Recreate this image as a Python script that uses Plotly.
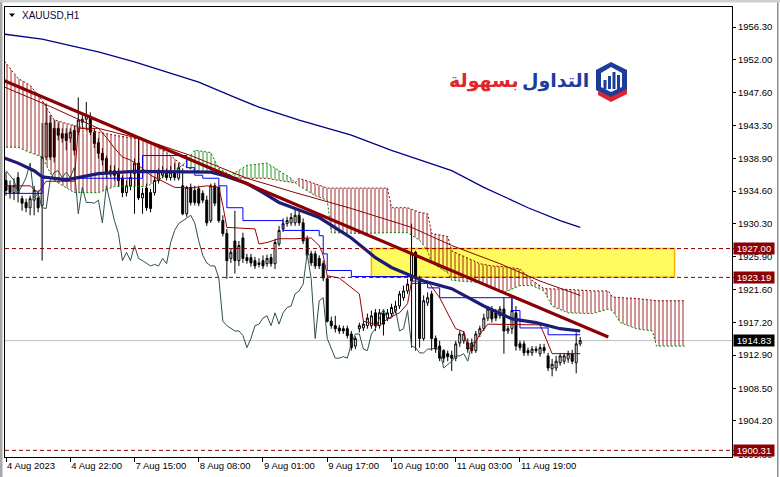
import plotly.graph_objects as go

# ---------------- candle data (XAUUSD H1) ----------------
opens = [1936.0,1935.3,1934.4,1936.4,1933.6,1933.1,1932.4,1933.4,1933.7,1932.7,
         1939.1,1943.6,1942.9,1942.9,1942.2,1942.2,1941.6,1942.6,1942.4,1943.7,
         1944.1,1944.4,1942.4,1941.0,1939.6,1938.9,1936.9,1937.3,1936.9,1936.3,
         1934.4,1935.3,1936.9,1938.3,1933.7,1935.0,1934.4,1934.4,1936.0,1936.7,
         1937.1,1936.4,1937.1,1936.3,1935.3,1931.6,1935.1,1934.7,1934.9,1934.3,
         1933.4,1930.7,1935.3,1935.1,1930.7,1929.0,1925.7,1928.0,1925.4,1928.4,
         1925.8,1925.8,1925.4,1925.1,1925.4,1925.0,1925.8,1925.0,1927.6,1929.6,
         1930.3,1930.4,1930.4,1931.4,1930.4,1928.3,1926.3,1926.3,1925.7,1925.0,
         1923.0,1917.4,1916.8,1916.5,1916.4,1916.4,1915.7,1914.1,1916.4,1916.5,
         1916.8,1916.8,1918.5,1916.8,1918.4,1917.8,1918.4,1918.8,1919.4,1920.5,
         1921.4,1922.7,1926.5,1922.7,1915.1,1919.8,1921.0,1915.1,1914.1,1913.5,
         1913.1,1912.9,1912.5,1914.5,1914.8,1914.5,1914.5,1913.5,1915.7,1916.4,
         1917.8,1918.8,1918.5,1918.1,1919.0,1916.1,1916.4,1918.5,1914.4,1914.4,
         1913.5,1913.2,1913.5,1913.1,1913.9,1912.8,1911.1,1911.2,1911.9,1912.1,
         1912.4,1913.1,1911.9,1914.4]
highs = [1937.1,1936.0,1936.3,1937.1,1934.0,1933.6,1934.0,1935.3,1934.7,1943.6,
         1946.2,1944.6,1944.0,1943.7,1942.9,1942.9,1942.9,1943.3,1947.0,1944.6,
         1946.4,1945.0,1942.9,1941.6,1940.3,1939.3,1938.0,1938.0,1937.6,1936.7,
         1936.0,1937.3,1938.9,1941.7,1935.0,1935.6,1934.9,1936.5,1937.6,1937.9,
         1937.6,1937.9,1938.3,1938.3,1937.6,1935.3,1935.6,1935.3,1935.3,1934.7,
         1934.0,1935.6,1935.7,1935.3,1931.4,1929.6,1927.0,1932.0,1928.0,1929.1,
         1926.3,1926.3,1925.9,1925.7,1926.1,1926.2,1926.3,1928.3,1930.0,1931.0,
         1931.2,1931.7,1932.4,1932.0,1931.0,1928.7,1926.7,1926.7,1926.1,1925.4,
         1923.4,1918.0,1918.1,1916.9,1916.8,1916.8,1916.1,1915.4,1917.2,1917.4,
         1918.4,1918.8,1919.0,1919.0,1918.8,1919.0,1919.7,1920.1,1921.4,1922.1,
         1923.0,1930.3,1926.7,1923.4,1920.8,1921.2,1921.4,1915.5,1914.8,1913.7,
         1913.5,1913.5,1914.8,1916.1,1916.1,1915.1,1915.1,1916.1,1916.8,1918.4,
         1919.4,1919.4,1919.0,1919.4,1920.5,1916.8,1920.5,1919.4,1914.8,1914.8,
         1913.9,1914.1,1914.1,1914.4,1914.4,1913.2,1912.4,1912.8,1913.2,1913.2,
         1913.5,1913.6,1915.9,1915.3]
lows = [1934.0,1933.6,1933.4,1933.1,1932.0,1931.8,1931.4,1931.4,1931.8,1925.4,
        1938.7,1938.7,1938.4,1941.3,1941.0,1940.0,1941.0,1939.3,1942.0,1942.9,
        1942.6,1942.0,1940.3,1938.9,1938.0,1936.3,1936.5,1936.0,1935.3,1933.8,
        1933.9,1934.7,1931.6,1933.4,1931.6,1932.0,1931.8,1934.0,1935.6,1936.3,
        1936.0,1936.0,1936.0,1936.0,1931.4,1931.2,1932.7,1932.7,1932.6,1933.0,
        1930.0,1930.4,1932.6,1930.4,1928.6,1923.0,1925.1,1923.7,1924.7,1925.1,
        1925.0,1924.6,1924.3,1924.5,1924.3,1924.6,1924.6,1924.3,1927.3,1929.2,
        1929.9,1930.0,1930.0,1930.0,1927.6,1925.7,1924.7,1924.3,1924.3,1922.7,
        1917.2,1916.4,1915.9,1915.7,1915.7,1915.1,1913.5,1913.7,1915.9,1916.1,
        1916.4,1916.4,1916.1,1916.4,1915.5,1917.4,1918.0,1918.4,1919.0,1920.1,
        1921.0,1913.9,1913.5,1913.9,1914.8,1919.4,1913.5,1913.2,1912.1,1911.9,
        1912.1,1910.8,1912.1,1914.0,1914.4,1913.2,1913.1,1913.2,1915.3,1916.1,
        1917.4,1917.2,1917.4,1917.7,1913.1,1915.7,1915.7,1913.5,1913.5,1912.8,
        1912.8,1912.8,1913.2,1912.7,1913.1,1910.8,1910.1,1910.8,1911.5,1911.7,
        1911.9,1911.7,1910.5,1914.1]
closes = [1934.7,1934.4,1935.3,1934.3,1933.0,1932.4,1933.6,1934.7,1932.4,1939.1,
          1943.6,1939.1,1939.1,1942.0,1941.6,1941.3,1942.4,1940.0,1944.0,1944.1,
          1944.6,1942.4,1940.9,1939.6,1938.7,1937.1,1937.3,1936.7,1936.0,1934.4,
          1935.3,1936.4,1938.3,1933.7,1934.3,1932.4,1932.3,1936.0,1937.1,1937.3,
          1936.4,1937.1,1936.4,1937.7,1931.6,1935.1,1933.1,1933.1,1933.0,1933.4,
          1930.4,1935.3,1933.0,1930.7,1929.0,1925.4,1926.5,1925.4,1927.4,1925.7,
          1925.4,1925.1,1924.7,1924.9,1924.7,1925.7,1925.0,1927.8,1929.4,1930.3,
          1930.7,1931.1,1931.4,1930.4,1928.0,1926.1,1925.1,1924.7,1924.7,1923.1,
          1917.4,1916.8,1916.4,1916.1,1916.1,1915.5,1913.9,1915.1,1916.8,1917.0,
          1917.8,1918.1,1916.8,1918.5,1917.0,1918.5,1919.2,1919.4,1921.0,1921.4,
          1922.3,1926.3,1923.0,1915.1,1920.1,1920.5,1915.1,1913.7,1912.5,1912.5,
          1912.7,1912.5,1914.4,1915.7,1915.7,1913.7,1913.5,1915.7,1916.4,1917.8,
          1919.0,1917.7,1917.8,1919.0,1916.1,1916.4,1918.8,1914.1,1913.9,1913.2,
          1913.2,1913.7,1913.7,1913.9,1913.5,1911.2,1911.7,1912.1,1912.8,1912.8,
          1913.1,1912.1,1914.4,1914.83]
bar_idx = list(range(len(closes)))

# ---------------- axis ticks ----------------
time_tick_idx = [0, 16, 32, 48, 64, 80, 96, 112, 128]
time_tick_labels = ["4 Aug 2023", "4 Aug 22:00", "7 Aug 15:00", "8 Aug 08:00", "9 Aug 01:00",
                    "9 Aug 17:00", "10 Aug 10:00", "11 Aug 03:00", "11 Aug 19:00"]
price_ticks = [1956.30, 1952.00, 1947.60, 1943.30, 1938.90, 1934.60, 1930.30, 1925.90,
               1921.60, 1917.20, 1912.90, 1908.50, 1904.20, 1899.80]

# ---------------- indicators ----------------
ma_slow_idx = [-1, 9, 18, 23, 32, 40, 48, 57, 63, 73, 86, 96, 111, 119, 130, 138, 143]
ma_slow_px = [1955.4, 1954.7, 1953.6, 1953.0, 1951.7, 1950.3, 1949.0, 1947.0, 1945.7, 1944.0,
              1942.0, 1940.0, 1937.3, 1935.1, 1932.4, 1930.7, 1929.8]

ma_mid_idx = [-1, 11, 23, 35, 46, 60, 72, 86, 101, 111, 123, 133, 143]
ma_mid_px = [1948.5, 1945.8, 1942.9, 1941.3, 1939.3, 1936.3, 1934.4, 1932.3, 1929.8, 1927.4,
             1925.0, 1922.7, 1920.8]

ma_fast_idx = [-1, 3, 7, 9, 15, 19, 23, 32, 44, 51, 54, 60, 64, 68, 72, 78, 86, 92, 96, 101,
               104, 111, 119, 126, 132, 138, 143]
ma_fast_px = [1939.1, 1938.3, 1937.3, 1936.5, 1936.1, 1936.5, 1936.9, 1937.2, 1937.1, 1937.1,
              1936.7, 1935.6, 1934.4, 1933.1, 1932.3, 1931.1, 1928.4, 1925.8, 1924.5, 1923.4,
              1922.7, 1921.7, 1919.4, 1917.7, 1917.2, 1916.4, 1916.1]

tenkan_idx = [-1, 6, 8, 10, 17, 18, 23, 25, 27, 29, 31, 33, 36, 42, 46, 50, 53, 54, 55, 62,
              63, 65, 68, 72, 76, 78, 79, 80, 83, 88, 89, 93, 95, 98, 100, 101, 105, 108, 111,
              112, 114, 115, 116, 118, 120, 133, 134, 136, 143]
tenkan_px = [1935.3, 1935.3, 1934.4, 1935.9, 1935.9, 1942.9, 1942.9, 1941.7, 1940.3, 1939.1,
             1938.7, 1938.0, 1936.7, 1935.1, 1935.0, 1935.3, 1935.1, 1932.7, 1929.8, 1929.6,
             1927.6, 1927.8, 1928.3, 1928.3, 1928.4, 1927.4, 1926.1, 1923.4, 1923.1, 1921.0,
             1917.4, 1916.8, 1917.7, 1918.5, 1919.7, 1922.7, 1922.7, 1920.5, 1917.4, 1916.4,
             1916.0, 1913.9, 1913.7, 1915.7, 1917.0, 1916.9, 1915.7, 1913.1, 1913.1]

kijun_idx = [-1, 9, 34, 45, 47, 49, 53, 55, 59, 69, 78, 79, 80, 86, 101, 105, 108, 126, 128,
             135, 143]
kijun_px = [1934.3, 1936.3, 1939.3, 1937.7, 1936.7, 1936.3, 1935.3, 1932.4, 1930.7, 1929.4,
            1928.7, 1926.3, 1924.1, 1923.3, 1922.4, 1921.8, 1920.5, 1918.8, 1916.5, 1915.6,
            1915.6]

cloud_idx = [-1, 3, 6, 9, 12, 17, 23, 27, 35, 40, 44, 47, 51, 53, 56, 60, 65, 68, 71, 72,
             73, 77, 80, 81, 89, 95, 96, 100, 103, 105, 106, 110, 111, 118, 121, 124, 128,
             131, 134, 136, 140, 146, 150, 151, 153, 157, 161, 162, 169]
span_b = [1952.2, 1949.5, 1948.6, 1946.6, 1944.0, 1943.3, 1942.4, 1942.0, 1941.3, 1939.7,
          1938.0, 1937.3, 1937.1, 1936.7, 1936.4, 1936.3, 1936.3, 1936.0, 1935.7, 1935.7,
          1936.3, 1935.6, 1935.0, 1935.0, 1935.0, 1935.0, 1932.4, 1932.4, 1931.8, 1931.6,
          1929.0, 1928.6, 1926.7, 1925.0, 1924.7, 1924.6, 1924.3, 1922.8, 1921.7, 1921.7,
          1921.6, 1921.4, 1921.4, 1920.6, 1920.5, 1920.4, 1920.2, 1920.1, 1920.1]
span_a = [1940.4, 1940.4, 1939.7, 1939.1, 1936.0, 1934.4, 1934.4, 1935.2, 1935.2, 1936.7,
          1938.0, 1940.0, 1939.7, 1937.6, 1936.7, 1938.0, 1938.3, 1937.3, 1936.3, 1935.7,
          1935.3, 1934.0, 1933.4, 1929.1, 1929.0, 1929.1, 1929.1, 1929.1, 1928.1, 1926.7,
          1925.1, 1923.8, 1922.8, 1922.5, 1921.8, 1921.2, 1922.1, 1922.1, 1921.4, 1919.4,
          1918.5, 1918.4, 1919.0, 1918.8, 1917.2, 1916.4, 1916.1, 1914.1, 1914.1]
chikou_shift = 26

trend_idx = [-1, 150]
trend_px = [1949.32, 1915.29]

zone_idx = [91, 166.5]
zone_px = [1923.19, 1927.00]
level_lines = [1927.00, 1923.19, 1900.31]
bid_price = 1914.83

x_range = [-0.25, 180.8]
y_range = [1899.43, 1958.95]

DARKRED = "#8B0000"

fig = go.Figure()

# ---------------- Ichimoku cloud (hatched) ----------------
segs = []
cur, cur_sign = [], 0
for k in range(len(cloud_idx)):
    d = span_b[k] - span_a[k]
    s = 0 if abs(d) < 1e-9 else (1 if d > 0 else -1)
    if s == 0:
        cur.append(k)
        if cur_sign != 0:
            segs.append((cur_sign, cur))
            cur, cur_sign = [k], 0
    else:
        if cur_sign == 0:
            cur_sign = s
        elif s != cur_sign:
            segs.append((cur_sign, cur))
            cur = [cur[-1]]
            cur_sign = s
        cur.append(k)
if len(cur) > 1:
    segs.append((cur_sign, cur))

for sgn, ks in segs:
    col = DARKRED if sgn > 0 else "#008000"
    xs = [cloud_idx[k] for k in ks]
    fig.add_trace(go.Scatter(x=xs, y=[span_b[k] for k in ks], mode="lines",
                             line=dict(width=0), hoverinfo="skip"))
    fig.add_trace(go.Scatter(x=xs, y=[span_a[k] for k in ks], mode="lines",
                             line=dict(width=0), hoverinfo="skip", fill="tonexty",
                             fillcolor="rgba(0,0,0,0)",
                             fillpattern=dict(shape="|", size=4, solidity=0.26,
                                              fgcolor=col, fgopacity=0.8,
                                              bgcolor="rgba(0,0,0,0)")))

fig.add_trace(go.Scatter(x=cloud_idx, y=span_b, mode="lines",
                         line=dict(color=DARKRED, width=1, dash="2px,2px"), hoverinfo="skip"))
fig.add_trace(go.Scatter(x=cloud_idx, y=span_a, mode="lines",
                         line=dict(color="#008000", width=1, dash="2px,2px"), hoverinfo="skip"))

# ---------------- candles ----------------
fig.add_trace(go.Candlestick(
    x=bar_idx, open=opens, high=highs, low=lows, close=closes,
    increasing=dict(line=dict(color="black", width=1), fillcolor="white"),
    decreasing=dict(line=dict(color="black", width=1), fillcolor="black"),
    whiskerwidth=0, hoverinfo="skip"))

# ---------------- indicator lines ----------------
fig.add_trace(go.Scatter(x=bar_idx[:len(closes) - chikou_shift], y=closes[chikou_shift:],
                         mode="lines", line=dict(color="#2F4F4F", width=1), hoverinfo="skip"))
fig.add_trace(go.Scatter(x=kijun_idx, y=kijun_px, mode="lines", line_shape="hv",
                         line=dict(color="#0000FF", width=1), hoverinfo="skip"))
fig.add_trace(go.Scatter(x=tenkan_idx, y=tenkan_px, mode="lines",
                         line=dict(color="#990000", width=1), hoverinfo="skip"))
fig.add_trace(go.Scatter(x=ma_mid_idx, y=ma_mid_px, mode="lines",
                         line=dict(color=DARKRED, width=1), hoverinfo="skip"))
fig.add_trace(go.Scatter(x=ma_slow_idx, y=ma_slow_px, mode="lines",
                         line=dict(color="#00008B", width=1.3), hoverinfo="skip"))
fig.add_trace(go.Scatter(x=ma_fast_idx, y=ma_fast_px, mode="lines",
                         line=dict(color="#1C1C78", width=3.2), hoverinfo="skip"))
fig.add_trace(go.Scatter(x=trend_idx, y=trend_px, mode="lines",
                         line=dict(color=DARKRED, width=3.2), hoverinfo="skip"))

# ---------------- shapes ----------------
shapes = []
shapes.append(dict(type="rect", xref="x", yref="y", x0=zone_idx[0], x1=zone_idx[1],
                   y0=zone_px[0], y1=zone_px[1], fillcolor="#FFFA5E",
                   line=dict(color="#F2B600", width=1.5), layer="below"))
shapes.append(dict(type="line", xref="paper", yref="y", x0=0, x1=1, y0=bid_price, y1=bid_price,
                   line=dict(color="#C0C0C0", width=1), layer="below"))
for lv in level_lines:
    shapes.append(dict(type="line", xref="paper", yref="y", x0=0, x1=1.006, y0=lv, y1=lv,
                       line=dict(color=DARKRED, width=1, dash="4px,3px")))

# window borders / decorations (pixel helper for non-data decorations)
def pxx(p):
    return (p - 5) / 727.0

def pxy(p):
    return (457 - p) / 450.0

shapes.append(dict(type="rect", xref="paper", yref="paper", x0=pxx(0), x1=pxx(2.5),
                   y0=pxy(477), y1=pxy(0), fillcolor="#A8A8A8", line=dict(width=0)))
shapes.append(dict(type="rect", xref="paper", yref="paper", x0=pxx(777), x1=pxx(778.5),
                   y0=pxy(477), y1=pxy(0), fillcolor="#909090", line=dict(width=0)))
shapes.append(dict(type="rect", xref="paper", yref="paper", x0=pxx(0), x1=pxx(780),
                   y0=pxy(2.5), y1=pxy(0), fillcolor="#D0D0D0", line=dict(width=0)))
# small down triangle near the symbol name
shapes.append(dict(type="path", xref="paper", yref="paper",
                   path="M %f,%f L %f,%f L %f,%f Z" % (pxx(9), pxy(13.5), pxx(15), pxy(13.5),
                                                       pxx(12), pxy(17)),
                   fillcolor="black", line=dict(width=0)))


# logo icon
def poly(pts):
    s = "M " + " L ".join("%f,%f" % (pxx(a), pxy(b)) for a, b in pts) + " Z"
    return s

shapes.append(dict(type="path", xref="paper", yref="paper",
                   path=poly([(611, 62), (627, 70), (627, 90), (611, 98), (596, 90), (596, 70)]),
                   fillcolor="#1E3D9B", line=dict(width=0)))
shapes.append(dict(type="path", xref="paper", yref="paper",
                   path=poly([(611, 67), (622, 73), (622, 87), (611, 92), (601, 87), (601, 73)]),
                   fillcolor="white", line=dict(width=0)))
for (a, b, top) in [(603.5, 606.5, 80), (608, 611, 76), (612.5, 615.5, 72), (617, 620, 75)]:
    shapes.append(dict(type="rect", xref="paper", yref="paper", x0=pxx(a), x1=pxx(b),
                       y0=pxy(89), y1=pxy(top), fillcolor="#1E3D9B", line=dict(width=0)))
shapes.append(dict(type="path", xref="paper", yref="paper",
                   path=poly([(598, 91), (611, 97), (627, 89), (627, 94), (611, 102), (598, 95)]),
                   fillcolor="#E3242B", line=dict(width=0)))

# ---------------- annotations ----------------
ann = []
for lv in level_lines:
    ann.append(dict(xref="paper", yref="y", x=1, y=lv, xanchor="left", yanchor="middle",
                    xshift=1, text="%.2f" % lv, showarrow=False, bgcolor=DARKRED,
                    font=dict(color="white", size=9.5, family="Liberation Sans"),
                    width=40, height=11, borderpad=0))
ann.append(dict(xref="paper", yref="y", x=1, y=bid_price, xanchor="left", yanchor="middle",
                xshift=1, text="%.2f" % bid_price, showarrow=False, bgcolor="black",
                font=dict(color="white", size=9.5, family="Liberation Sans"),
                width=40, height=11, borderpad=0))
ann.append(dict(xref="paper", yref="paper", x=pxx(20), y=pxy(15), xanchor="left",
                yanchor="middle", text="XAUUSD,H1", showarrow=False,
                font=dict(color="#0A0A30", size=10, family="Liberation Sans")))
ann.append(dict(xref="paper", yref="paper", x=pxx(591), y=pxy(80), xanchor="right",
                yanchor="middle", text="<b>التداول</b>", showarrow=False,
                font=dict(color="#1E3D9B", size=19, family="DejaVu Sans")))
ann.append(dict(xref="paper", yref="paper", x=pxx(521), y=pxy(80), xanchor="right",
                yanchor="middle", text="<b>بسهولة</b>", showarrow=False,
                font=dict(color="#E3242B", size=19, family="DejaVu Sans")))

fig.update_layout(
    width=780, height=477, autosize=False,
    margin=dict(l=5, r=48, t=7, b=20, autoexpand=False),
    paper_bgcolor="white", plot_bgcolor="white",
    showlegend=False, shapes=shapes, annotations=ann,
    xaxis=dict(range=x_range, tickvals=time_tick_idx, ticktext=time_tick_labels,
               ticks="outside", ticklen=4, tickcolor="black", ticklabelposition="outside right",
               tickangle=0, automargin=False,
               tickfont=dict(size=9.5, color="black", family="Liberation Sans"),
               showgrid=False, zeroline=False, showline=True, mirror=True,
               linecolor="black", linewidth=1, rangeslider=dict(visible=False), fixedrange=True),
    yaxis=dict(range=y_range, side="right", tickvals=price_ticks,
               ticktext=["%.2f" % p for p in price_ticks], ticks="outside", ticklen=3,
               automargin=False,
               tickcolor="black", tickfont=dict(size=9.5, color="black", family="Liberation Sans"),
               showgrid=False, zeroline=False, showline=True, mirror=True,
               linecolor="black", linewidth=1, fixedrange=True),
)

fig.write_html("out.html", config={"displayModeBar": False},
               post_script="document.body.style.margin='0px';document.body.style.overflow='hidden';")
